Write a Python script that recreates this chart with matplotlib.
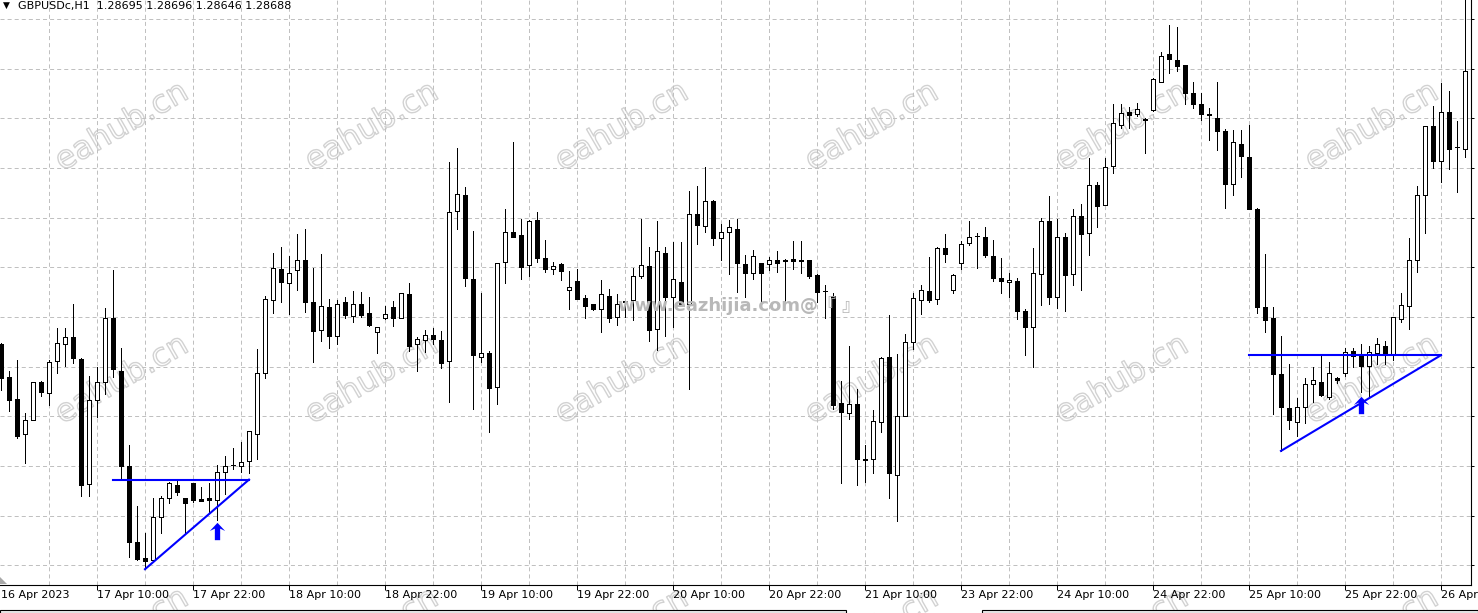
import numpy as np
import matplotlib
matplotlib.use("Agg")
from matplotlib import pyplot as plt
from matplotlib.path import Path
from matplotlib.patches import Polygon
import matplotlib.patheffects as pe

plt.rcParams['font.family'] = ['DejaVu Sans', 'Noto Sans CJK SC']
plt.rcParams['lines.scale_dashes'] = False

W, H = 1478, 613

# hourly GBPUSD bars, prices in points (1e-5)
opens = np.array([
    128200, 128030, 127914, 127730, 127804, 128004, 127944, 128112, 128200, 128240,
    128126, 127470, 127910, 128006, 128340, 128064, 127564, 127170, 127084, 127076,
    127300, 127396, 127468, 127396, 127476, 127394, 127396, 127390, 127536, 127570,
    127564, 127590, 127734, 128050, 128430, 128594, 128520, 128588, 128644, 128420,
    128274, 128394, 128246, 128420, 128350, 128410, 128364, 128264, 128336, 128394,
    128336, 128464, 128200, 128226, 128252, 128226, 128114, 128896, 128980, 128544,
    128136, 128154, 127976, 128632, 128790, 128770, 128614, 128848, 128650, 128592,
    128620, 128484, 128534, 128444, 128410, 128388, 128456, 128346, 128420, 128430,
    128560, 128610, 128280, 128676, 128446, 128524, 128410, 128884, 128820, 128950,
    128754, 128786, 128806, 128620, 128574, 128624, 128620, 128640, 128634, 128648,
    128640, 128640, 128564, 128480, 128456, 127894, 127840, 127890, 127600, 127600,
    127794, 128134, 127520, 127826, 128214, 128434, 128480, 128436, 128704, 128484,
    128624, 128728, 128766, 128760, 128660, 128546, 128524, 128534, 128374, 128290,
    128566, 128844, 128450, 128764, 128570, 128874, 128780, 129032, 128930, 129134,
    129346, 129414, 129406, 129376, 129424, 129574, 129716, 129686, 129660, 129514,
    129456, 129402, 129386, 129316, 129036, 129250, 129180, 128910, 128394, 128340,
    128044, 127870, 127796, 127872, 127992, 128006, 127926, 128024, 128050, 128166,
    128140, 128090, 128156, 128190, 128144, 128334, 128400, 128644, 128980, 129340,
    129160, 129416, 129232, 129224]) / 1e5
highs = np.array([
    128210, 128064, 128120, 127840, 128006, 128008, 128120, 128286, 128284, 128410,
    128130, 128036, 128084, 128390, 128588, 128180, 127674, 127354, 127216, 127396,
    127410, 127484, 127490, 127396, 127476, 127456, 127476, 127570, 127616, 127660,
    127690, 127750, 128176, 128454, 128680, 128710, 128664, 128776, 128804, 128600,
    128674, 128440, 128430, 128450, 128480, 128474, 128450, 128290, 128400, 128426,
    128470, 128520, 128240, 128276, 128284, 128268, 129156, 129228, 129024, 128794,
    128470, 128166, 128628, 128910, 129256, 128854, 128850, 128890, 128746, 128632,
    128628, 128584, 128594, 128460, 128410, 128536, 128490, 128464, 128428, 128600,
    128856, 128710, 128844, 128710, 128736, 128736, 129004, 129026, 129130, 128954,
    128830, 128850, 128856, 128670, 128696, 128624, 128656, 128688, 128648, 128740,
    128740, 128644, 128568, 128510, 128470, 128008, 128190, 127970, 127676, 127860,
    128134, 128354, 128150, 128254, 128470, 128510, 128656, 128710, 128776, 128568,
    128740, 128844, 128784, 128814, 128746, 128650, 128576, 128550, 128384, 128704,
    128860, 128976, 128856, 128784, 128910, 128936, 129174, 129050, 129174, 129456,
    129456, 129440, 129464, 129384, 129590, 129726, 129870, 129858, 129660, 129570,
    129516, 129434, 129574, 129326, 129320, 129320, 129346, 128914, 128674, 128396,
    128244, 128096, 127920, 128024, 128084, 128144, 128110, 128030, 128180, 128180,
    128204, 128190, 128234, 128220, 128344, 128470, 128756, 129026, 129340, 129444,
    129564, 129524, 129370, 130200]) / 1e5
lows = np.array([
    127960, 127850, 127710, 127580, 127804, 127930, 127884, 128050, 128090, 128104,
    127410, 127410, 127820, 127940, 128030, 127500, 127090, 127076, 127026, 127070,
    127216, 127370, 127416, 127210, 127376, 127380, 127320, 127284, 127420, 127550,
    127536, 127530, 127604, 128026, 128366, 128424, 128360, 128484, 128370, 128110,
    128220, 128180, 128200, 128336, 128320, 128346, 128296, 128156, 128334, 128296,
    128336, 128164, 128064, 128160, 128204, 128076, 127900, 128804, 128508, 127864,
    128110, 127744, 127890, 128520, 128760, 128544, 128560, 128630, 128580, 128570,
    128536, 128386, 128436, 128340, 128380, 128264, 128320, 128300, 128344, 128330,
    128550, 128220, 128170, 128246, 128290, 128410, 127970, 128724, 128790, 128720,
    128644, 128570, 128476, 128450, 128544, 128400, 128590, 128580, 128426, 128596,
    128576, 128546, 128420, 128336, 127864, 127476, 127810, 127464, 127480, 127530,
    127744, 127400, 127276, 127826, 128176, 128360, 128420, 128414, 128630, 128470,
    128596, 128720, 128600, 128656, 128534, 128470, 128450, 128334, 128146, 128084,
    128404, 128414, 128390, 128374, 128510, 128486, 128670, 128816, 128930, 129094,
    129330, 129330, 129396, 129200, 129420, 129570, 129620, 129630, 129454, 129436,
    129374, 129266, 129214, 128914, 128980, 129076, 128906, 128366, 128264, 127836,
    127644, 127760, 127724, 127790, 127900, 127930, 127916, 128000, 128034, 128080,
    127950, 127930, 128100, 128100, 128120, 128320, 128280, 128580, 128784, 129120,
    129050, 129116, 128996, 129180]) / 1e5
closes = np.array([
    128024, 127910, 127720, 127804, 128006, 127950, 128108, 128210, 128240, 128130,
    127464, 127910, 128004, 128336, 128070, 127564, 127170, 127080, 127070, 127300,
    127400, 127476, 127430, 127370, 127390, 127384, 127388, 127536, 127566, 127572,
    127586, 127746, 128050, 128436, 128600, 128524, 128576, 128640, 128424, 128268,
    128400, 128246, 128414, 128356, 128414, 128356, 128300, 128290, 128360, 128336,
    128468, 128194, 128230, 128248, 128230, 128104, 128890, 128984, 128548, 128144,
    128154, 127974, 128628, 128786, 128764, 128606, 128844, 128654, 128596, 128608,
    128586, 128500, 128440, 128400, 128384, 128464, 128340, 128410, 128428, 128560,
    128614, 128274, 128686, 128450, 128540, 128414, 128884, 128826, 128950, 128754,
    128786, 128812, 128624, 128576, 128660, 128576, 128640, 128628, 128644, 128638,
    128638, 128556, 128476, 128478, 127886, 127846, 127890, 127600, 127598, 127800,
    128130, 127530, 127826, 128214, 128444, 128486, 128430, 128704, 128674, 128564,
    128724, 128764, 128768, 128670, 128546, 128534, 128536, 128376, 128294, 128574,
    128844, 128450, 128760, 128564, 128874, 128776, 129032, 128926, 129130, 129356,
    129410, 129400, 129432, 129374, 129586, 129710, 129690, 129654, 129516, 129456,
    129404, 129400, 129314, 129036, 129256, 129184, 128910, 128394, 128330, 128044,
    127876, 127804, 127876, 127992, 128014, 127934, 128050, 128016, 128160, 128140,
    128090, 128160, 128200, 128150, 128344, 128404, 128644, 128980, 129340, 129160,
    129416, 129224, 129230, 129630]) / 1e5

tick_bars = [12, 24, 36, 48, 60, 72, 84, 96, 108, 120, 132, 144, 156, 168, 180]
tick_labels = ["17 Apr 10:00", "17 Apr 22:00", "18 Apr 10:00", "18 Apr 22:00",
               "19 Apr 10:00", "19 Apr 22:00", "20 Apr 10:00", "20 Apr 22:00",
               "21 Apr 10:00", "23 Apr 22:00", "24 Apr 10:00", "24 Apr 22:00",
               "25 Apr 10:00", "25 Apr 22:00", "26 Apr"]
first_label = "16 Apr 2023"
header = "GBPUSDc,H1  1.28695 1.28696 1.28646 1.28688"

# ascending triangles drawn on the chart
flat_bars = [[14, 31], [156, 180]]
flat_prices = [1.27494, 1.28144]
rise_bars = [[18, 31], [160, 180]]
rise_prices = [[1.27026, 1.27494], [1.27644, 1.28144]]
arrow_bars = [27, 170]
arrow_prices = [1.27226, 1.27886]


def fx(px):
    return px / W


def fy(py):
    return 1 - py / H


fig = plt.figure(figsize=(W / 100, H / 100), dpi=100)
fig.patch.set_facecolor("white")
ax = fig.add_axes([0, 28.5 / H, 1470.5 / W, 584.5 / H])
ax.set_facecolor("none")
ax.set_xlim(-0.125, 183.69)
ax.set_ylim(1.26946, 1.30000)

# grid every 6 bars, labels every 12
ax.set_xticks([-0.06] + tick_bars, [first_label] + tick_labels, fontsize=8)
ax.set_xticks(np.arange(6, 184, 12), minor=True)
for lab in ax.get_xticklabels():
    lab.set_horizontalalignment("left")
ax.tick_params(axis="x", which="major", direction="out", length=3.6, width=0.72, pad=0.5)
ax.tick_params(axis="x", which="minor", length=0)
ax.xaxis.get_major_ticks()[0].tick1line.set_visible(False)

grid_levels = 1.29900 - 0.002594 * np.arange(12)
ax.set_yticks(grid_levels)
ax.yaxis.tick_right()
ax.tick_params(axis="y", direction="out", length=2.2, width=0.72, labelright=False, labelleft=False)

dash = (0, (2.9, 2.2))
ax.grid(True, which="both", axis="x", color="#c0c0c0", linestyle=dash, linewidth=0.72)
ax.grid(True, which="major", axis="y", color="#c0c0c0", linestyle=dash, linewidth=0.72)
ax.xaxis.get_major_ticks()[0].gridline.set_visible(False)
ax.set_axisbelow(True)

for s in ["left", "top"]:
    ax.spines[s].set_visible(False)
for s in ["right", "bottom"]:
    ax.spines[s].set_linewidth(0.8)

# candles
x = np.arange(len(opens))
up = closes >= opens
ax.vlines(x, lows, highs, color="black", linewidth=0.7, zorder=2, antialiased=False)
ax.bar(x, np.abs(closes - opens), width=0.6, bottom=np.minimum(opens, closes),
       color=np.where(up, "white", "black"), edgecolor="black", linewidth=0.7,
       zorder=3, antialiased=False)

# triangles + arrows
for bars, p in zip(flat_bars, flat_prices):
    ax.plot(bars, [p, p], color="#0000ff", linewidth=1.5, zorder=4)
for bars, p in zip(rise_bars, rise_prices):
    ax.plot(bars, p, color="#0000ff", linewidth=1.5, zorder=4)

arrow = Path([(0, 8.5), (7.5, 0.5), (2.6, 2.8), (2.6, -8.5), (-2.6, -8.5),
              (-2.6, 2.8), (-7.5, 0.5), (0, 8.5)],
             [Path.MOVETO] + [Path.LINETO] * 6 + [Path.CLOSEPOLY])
ax.plot(arrow_bars, arrow_prices, linestyle="none", marker=arrow, markersize=12.5,
        color="#0000ff", markeredgewidth=0, zorder=5)

# watermarks
for cx in [122, 372, 622, 872, 1122, 1372]:
    for cy in [127, 380, 633]:
        fig.text(fx(cx), fy(cy), "eahub.cn", rotation=30, ha="center", va="center",
                 rotation_mode="anchor", fontsize=23, color="none", zorder=-1,
                 path_effects=[pe.Stroke(linewidth=1.0, foreground="#d2d2d2")])
ax.text(fx(618), fy(306), "www.eazhijia.com@『 』", transform=fig.transFigure,
        ha="left", va="center", fontsize=13, fontweight="bold", color="#b8b8b8", zorder=6)

# header
fig.text(fx(3), fy(5.5), "▼", fontsize=6.5, ha="left", va="center", color="black")
fig.text(fx(18), fy(5.5), header, fontsize=8, ha="left", va="center", color="black")

# bottom tab strip and shift marker
for x0, x1 in [(0, 846), (982, W)]:
    fig.add_artist(Polygon([(fx(x0), fy(609.5)), (fx(x1), fy(609.5)), (fx(x1), fy(H)), (fx(x0), fy(H))],
                           closed=True, transform=fig.transFigure, facecolor="#f0f0f0",
                           edgecolor="black", linewidth=0.8))
fig.add_artist(Polygon([(fx(0), fy(577)), (fx(0), fy(584)), (fx(7), fy(584))], closed=True,
                       transform=fig.transFigure, facecolor="#a8a8a8", edgecolor="none"))

fig.savefig("out.png", dpi=100, facecolor="white")
